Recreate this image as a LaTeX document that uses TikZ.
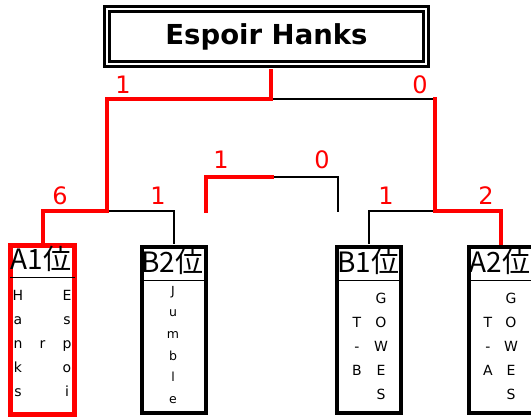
\documentclass[tikz,border=0pt]{standalone}
\usepackage{fontspec}
\setmainfont{DejaVu Sans}
\newfontfamily\jpfont{Noto Sans CJK JP}
\usetikzlibrary{positioning}

\tikzset{
  win/.style={draw=red, line width=4pt, line cap=rect},
  lose/.style={draw=black, line width=1.5pt, line cap=rect},
  score/.style={text=red, font=\fontsize{24}{24}\selectfont, inner sep=0pt},
  team/.style={draw, line width=3.5pt, minimum width=64pt, minimum height=166pt, inner sep=0pt},
  rank/.style={font=\jpfont\fontsize{28}{28}\selectfont, inner sep=0pt, anchor=base west},
  letter/.style={font=\fontsize{14}{14}\selectfont, inner sep=0pt, anchor=base},
  sep/.style={draw, line width=0.8pt, shorten <=2pt, shorten >=2pt},
}

\begin{document}
\begin{tikzpicture}[x=1pt, y=-1pt]
    \useasboundingbox[fill=white] (0,0) rectangle (531,419);

    % champion
    \node[draw, line width=3pt, double, double distance=2pt,
          minimum width=319pt, minimum height=55pt,
          font=\bfseries\fontsize{27.5}{27.5}\selectfont] (champ) at (266.5,36.5) {Espoir Hanks};

    % teams
    \node[team, draw=red, line width=5pt, minimum height=169pt] (a1) at (42.5,330) {};
    \node[team] (b2) at (174,330) {};
    \node[team] (b1) at (369,330) {};
    \node[team] (a2) at (501,330) {};

    \node[rank] (a1r) at ([xshift=2.5pt,yshift=-27pt]a1.north west) {A1位};
    \node[rank] (b2r) at ([xshift=1pt,yshift=-27pt]b2.north west) {B2位};
    \node[rank] (b1r) at ([xshift=2pt,yshift=-27pt]b1.north west) {B1位};
    \node[rank] (a2r) at ([xshift=2pt,yshift=-27pt]a2.north west) {A2位};

    \draw[sep] ([yshift=-34pt]a1.north west) -- ([yshift=-34pt]a1.north east);
    \draw[sep] ([yshift=-35pt]b2.north west) -- ([yshift=-35pt]b2.north east);
    \draw[sep] ([yshift=-35pt]b1.north west) -- ([yshift=-35pt]b1.north east);
    \draw[sep] ([yshift=-35pt]a2.north west) -- ([yshift=-35pt]a2.north east);

    % names, written top to bottom
    \foreach \ch [count=\i] in {E,s,p,o,i}
      \node[letter] (a1e\i) at ([xshift=24.5pt,yshift=-58pt-24pt*(\i-1)]a1.north) {\ch};
    \node[letter] (a1r3) at ([yshift=-106pt]a1.north) {r};
    \foreach \ch [count=\i] in {H,a,n,k,s}
      \node[letter] (a1h\i) at ([xshift=-24.5pt,yshift=-58pt-24pt*(\i-1)]a1.north) {\ch};

    \foreach \ch [count=\i] in {J,u,m,b,l,e}
      \node[letter, font=\fontsize{12.5}{12.5}\selectfont] (b2j\i) at ([xshift=-1pt,yshift=-50pt-21.6pt*(\i-1)]b2.north) {\ch};

    \foreach \ch [count=\i] in {G,O,W,E,S} {
      \node[letter] (b1g\i) at ([xshift=12pt,yshift=-58pt-24pt*(\i-1)]b1.north) {\ch};
      \node[letter] (a2g\i) at ([xshift=10pt,yshift=-58pt-24pt*(\i-1)]a2.north) {\ch};
    }
    \foreach \ch [count=\i] in {T,-,B}
      \node[letter] (b1t\i) at ([xshift=-12pt,yshift=-82pt-24pt*(\i-1)]b1.north) {\ch};
    \foreach \ch [count=\i] in {T,-,A}
      \node[letter] (a2t\i) at ([xshift=-13pt,yshift=-82pt-24pt*(\i-1)]a2.north) {\ch};

    % bracket
    \coordinate (fin) at (271,99);
    \coordinate (semiL) at (107,99);
    \coordinate (semiR) at (435,99);
    \coordinate (qA) at (107,211);
    \coordinate (qB) at (435,211);
    \coordinate (mid) at (272,177);
    \coordinate (midL) at (206,211);
    \coordinate (midR) at (338,211);

    \draw[lose] (fin) -- (semiR);
    \draw[lose] (qA) -- (qA -| b2) -- ([yshift=2pt]b2.north);
    \draw[lose] (qB) -- (qB -| b1) -- ([yshift=2pt]b1.north);
    \draw[lose] (mid) -- (mid -| midR) -- (midR);
    \draw[win] ([yshift=-6pt]champ.south -| fin) -- (fin) -- (semiL) -- (qA)
               -- (qA -| a1) -- ([yshift=2pt]a1.north);
    \draw[win] (semiR) -- (qB) -- (qB -| a2) -- ([yshift=2pt]a2.north);
    \draw[win] (midL) -- (midL |- mid) -- (mid);

    % scores
    \node[score] (sc1) at (123,85) {1};
    \node[score] (sc2) at (420,85) {0};
    \node[score] (sc3) at (60,196) {6};
    \node[score] (sc4) at (158,196) {1};
    \node[score] (sc5) at (221,160) {1};
    \node[score] (sc6) at (322,160) {0};
    \node[score] (sc7) at (386,196) {1};
    \node[score] (sc8) at (486,196) {2};
\end{tikzpicture}
\end{document}
